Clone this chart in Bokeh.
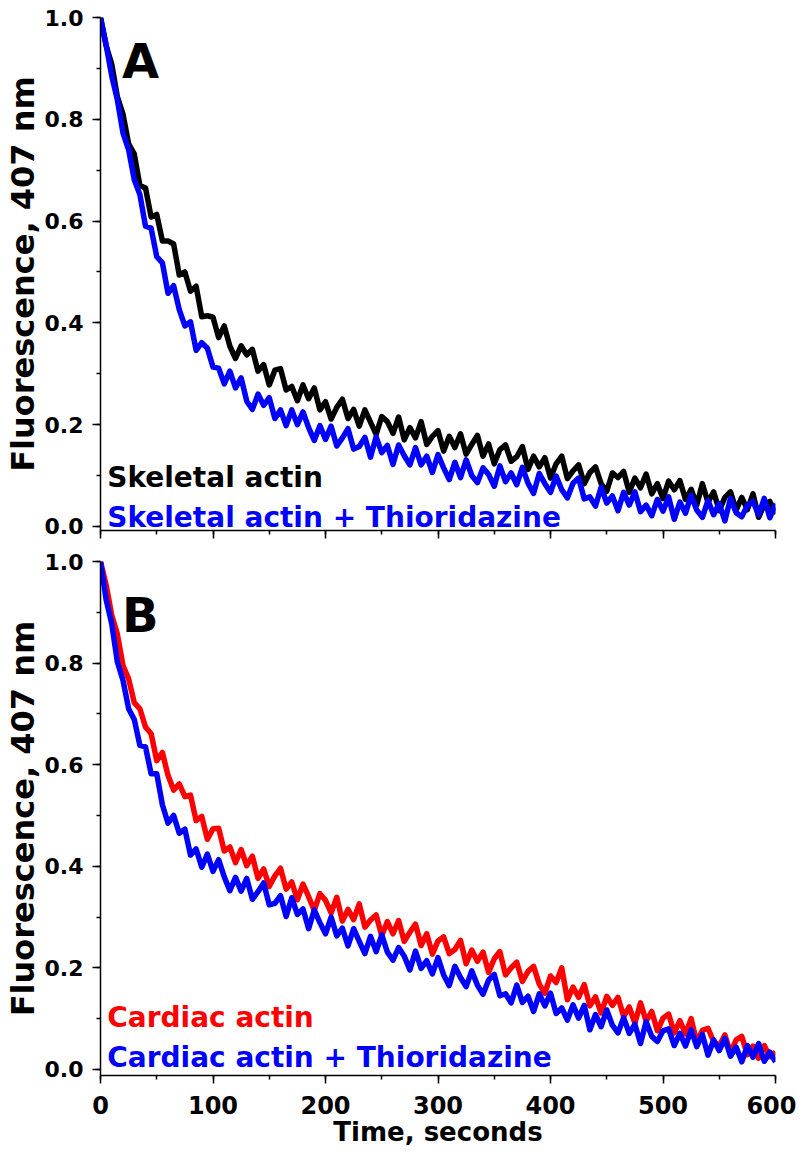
from bokeh.plotting import figure
from bokeh.layouts import column
from bokeh.models import Range1d, SingleIntervalTicker, NumeralTickFormatter, Label, CustomJSTickFormatter
from bokeh.embed import file_html
from bokeh.resources import INLINE

# time in seconds (5 s sampling)
time_s = list(range(0, 601, 5))

skeletal_actin = [
    1.000, .945, .908, .844, .810, .752, .732, .670, .665, .608,
    .613, .561, .561, .555, .494, .500, .462, .472, .412, .414,
    .411, .371, .394, .354, .330, .355, .337, .348, .305, .318,
    .278, .307, .310, .268, .275, .247, .278, .251, .272, .229,
    .245, .211, .234, .250, .212, .230, .197, .229, .205, .181,
    .216, .206, .183, .215, .170, .194, .174, .206, .161, .177,
    .188, .148, .177, .155, .182, .142, .161, .179, .138, .162,
    .123, .151, .160, .128, .137, .157, .112, .138, .117, .135,
    .095, .123, .138, .094, .109, .121, .084, .106, .117, .084,
    .069, .105, .096, .108, .067, .095, .076, .103, .064, .084,
    .055, .089, .072, .090, .053, .073, .042, .084, .047, .068,
    .031, .057, .068, .032, .057, .033, .064, .018, .043, .049,
    .024]

skeletal_thio = [
    1.000, .946, .885, .838, .773, .740, .681, .652, .590, .586,
    .530, .518, .458, .473, .426, .394, .402, .346, .361, .350,
    .313, .311, .280, .305, .272, .292, .246, .230, .260, .238,
    .253, .212, .229, .198, .229, .200, .225, .194, .169, .198,
    .171, .197, .158, .174, .192, .152, .157, .175, .136, .176,
    .145, .159, .122, .160, .139, .121, .155, .121, .138, .106,
    .141, .115, .092, .126, .096, .131, .100, .086, .115, .102,
    .079, .119, .088, .105, .082, .116, .085, .065, .104, .084,
    .067, .099, .072, .056, .085, .095, .054, .058, .040, .077,
    .046, .060, .031, .067, .042, .068, .029, .042, .021, .053,
    .030, .058, .014, .048, .026, .061, .032, .018, .051, .023,
    .045, .011, .055, .027, .019, .041, .049, .023, .055, .017,
    .045]

cardiac_actin = [
    1.000, .954, .894, .857, .795, .769, .722, .710, .674, .661,
    .608, .624, .579, .550, .562, .537, .540, .490, .498, .453,
    .474, .475, .430, .438, .407, .433, .401, .420, .376, .395,
    .360, .381, .396, .355, .369, .334, .365, .340, .313, .346,
    .333, .308, .339, .292, .315, .295, .326, .280, .294, .304,
    .263, .291, .267, .293, .252, .270, .286, .244, .267, .227,
    .253, .261, .228, .236, .254, .208, .235, .213, .231, .191,
    .218, .232, .186, .200, .211, .173, .193, .203, .168, .150,
    .184, .171, .200, .137, .162, .142, .167, .125, .143, .111,
    .144, .126, .142, .104, .123, .091, .131, .095, .114, .076,
    .101, .109, .072, .096, .070, .100, .053, .077, .081, .055,
    .046, .068, .032, .058, .065, .029, .046, .022, .047, .025,
    .034]

cardiac_thio = [
    1.000, .925, .877, .802, .766, .710, .689, .638, .635, .582,
    .582, .521, .485, .500, .465, .473, .422, .434, .398, .424,
    .390, .413, .379, .352, .378, .351, .376, .335, .350, .367,
    .324, .327, .342, .301, .338, .305, .316, .277, .314, .289,
    .267, .300, .263, .278, .243, .277, .252, .228, .262, .232,
    .265, .231, .215, .240, .223, .196, .233, .199, .214, .188,
    .220, .186, .165, .203, .181, .163, .194, .166, .148, .176,
    .187, .145, .149, .131, .166, .132, .144, .114, .149, .125,
    .150, .110, .121, .097, .127, .101, .126, .078, .108, .084,
    .117, .087, .072, .102, .071, .089, .051, .094, .065, .055,
    .076, .080, .047, .071, .046, .078, .045, .069, .028, .058,
    .037, .061, .026, .044, .015, .047, .024, .051, .016, .034,
    .015]

y_ticks_interval = 0.2
x_ticks_interval = 100

FONT = "DejaVu Sans"


def style(p, show_x_labels):
    p.outline_line_color = None
    p.xgrid.visible = False
    p.ygrid.visible = False
    p.background_fill_color = "white"
    p.border_fill_color = "white"
    for ax in (p.xaxis[0], p.yaxis[0]):
        ax.axis_line_width = 1.5
        ax.axis_line_color = "black"
        ax.major_tick_line_width = 1.5
        ax.minor_tick_line_width = 1.5
        ax.major_tick_in = 0
        ax.minor_tick_in = 0
        ax.major_tick_out = 8
        ax.minor_tick_out = 4
        ax.major_label_text_font = FONT
        ax.major_label_text_font_style = "bold"
        ax.major_label_text_color = "black"
        ax.axis_label_text_font = FONT
        ax.axis_label_text_font_style = "bold"
        ax.axis_label_text_color = "black"
    p.xaxis[0].ticker = SingleIntervalTicker(interval=x_ticks_interval, num_minor_ticks=2)
    p.yaxis[0].ticker = SingleIntervalTicker(interval=y_ticks_interval, num_minor_ticks=2)
    p.yaxis[0].formatter = NumeralTickFormatter(format="0.0")
    p.yaxis[0].major_label_text_font_size = "22px"
    p.yaxis[0].major_label_standoff = 9
    p.yaxis[0].axis_label = "Fluorescence, 407 nm"
    p.yaxis[0].axis_label_text_font_size = "32px"
    p.yaxis[0].axis_label_standoff = 0
    if show_x_labels:
        p.xaxis[0].major_label_text_font_size = "24px"
        p.xaxis[0].major_label_standoff = 12
        p.xaxis[0].axis_label = "Time, seconds"
        p.xaxis[0].axis_label_text_font_size = "26px"
        p.xaxis[0].axis_label_standoff = 0
    else:
        p.xaxis[0].formatter = CustomJSTickFormatter(code="return '';")
        p.xaxis[0].major_label_text_font_size = "10px"
        p.xaxis[0].major_label_standoff = 0


def add_label(p, x, y, text, color, size):
    p.add_layout(Label(x=x, y=y, text=text, text_color=color,
                       text_font=FONT, text_font_style="bold",
                       text_font_size=size, text_baseline="alphabetic",
                       text_align="left"))


# Panel A
pA = figure(width=796, height=545, output_backend="svg", toolbar_location=None,
            x_range=Range1d(0, 600), y_range=Range1d(-0.008, 1.0),
            min_border_left=93, min_border_right=21, min_border_top=17, min_border_bottom=15)
style(pA, False)
pA.line(time_s, skeletal_actin, line_color="black", line_width=5.5, line_join="round")
pA.line(time_s, skeletal_thio, line_color="#0000FF", line_width=5.5, line_join="round")
add_label(pA, 19, 0.915, "A", "black", "48px")
add_label(pA, 6, 0.096, "Skeletal actin", "black", "28px")
add_label(pA, 6, 0.018, "Skeletal actin + Thioridazine", "#0000FF", "28px")

# Panel B
pB = figure(width=796, height=604, output_backend="svg", toolbar_location=None,
            x_range=Range1d(0, 600), y_range=Range1d(-0.012, 1.0),
            min_border_left=93, min_border_right=21, min_border_top=16, min_border_bottom=74)
style(pB, True)
pB.line(time_s, cardiac_actin, line_color="#FF0000", line_width=5.5, line_join="round")
pB.line(time_s, cardiac_thio, line_color="#0000FF", line_width=5.5, line_join="round")
add_label(pB, 19, 0.894, "B", "black", "48px")
add_label(pB, 6, 0.102, "Cardiac actin", "#FF0000", "28px")
add_label(pB, 6, 0.024, "Cardiac actin + Thioridazine", "#0000FF", "28px")

layout = column(pA, pB, spacing=0)
open("out.html", "w").write(file_html(layout, INLINE))
